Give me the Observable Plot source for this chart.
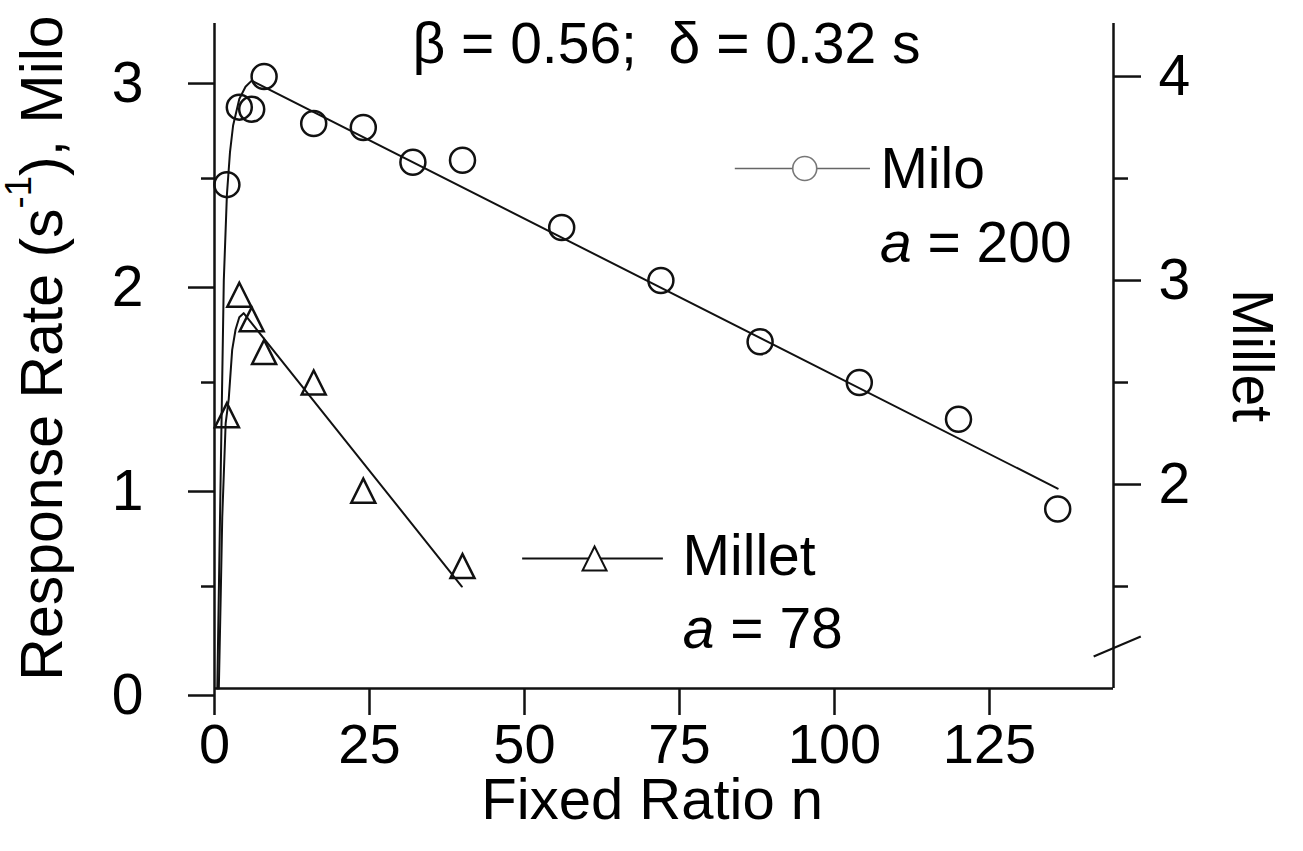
<!DOCTYPE html>
<html><head><meta charset="utf-8">
<script src="https://cdn.jsdelivr.net/npm/d3@7"></script>
<script src="https://cdn.jsdelivr.net/npm/@observablehq/plot@0.6"></script>
<style>html,body{margin:0;padding:0;background:#fff;} svg{display:block;}</style>
</head><body><div id="chart"></div>
<script>
// ---- data ----
const miloN = [2, 4, 6, 8, 16, 24, 32, 40, 56, 72, 88, 104, 120, 136];
const miloRate = [2.47, 2.85, 2.84, 3.00, 2.77, 2.75, 2.58, 2.59, 2.26, 2.00, 1.70, 1.50, 1.32, 0.88];
const milletN = [2, 4, 6, 8, 16, 24, 40];
const milletRate = [2.34, 2.93, 2.81, 2.65, 2.50, 1.97, 1.60]; // on the right (Millet) axis
const miloFitN = [0.45, 1.0, 1.5, 2, 2.5, 3, 4, 5, 6, 136];
const miloFitRate = [0, 1.05, 2.0, 2.42, 2.63, 2.76, 2.89, 2.95, 2.98, 0.98];
const milletFitN = [0.7, 1.0, 1.25, 1.8, 2.3, 2.85, 3.4, 4.0, 4.7, 39.9];
const milletFitRate = [1.0, 1.45, 1.84, 2.30, 2.42, 2.66, 2.76, 2.82, 2.84, 1.50]; // right axis units
const xTicks = [0, 25, 50, 75, 100, 125];
const yTicksLeft = [0, 1, 2, 3];
const yMinorLeft = [0.5, 1.5, 2.5];
const yTicksRight = [2, 3, 4];
const yMinorRight = [1.5, 2.5, 3.5];
const rightOffset = 1; // Millet axis value = left axis value + 1

const milo = miloN.map((n, i) => ({n, rate: miloRate[i]}));
const millet = milletN.map((n, i) => ({n, rate: milletRate[i] - rightOffset}));
const miloFit = miloFitN.map((n, i) => ({n, rate: miloFitRate[i]}));
const milletFit = milletFitN.map((n, i) => ({n, rate: milletFitRate[i] - rightOffset}));

const FONT = "'Liberation Sans', Arial, Helvetica, sans-serif";
const FS = 57;
const INK = "#111";

const tri = {draw(ctx, size) {const r = Math.sqrt(size / Math.PI); ctx.moveTo(0, -r); ctx.lineTo(r, r); ctx.lineTo(-r, r); ctx.closePath();}};

const plot = Plot.plot({
  width: 1303, height: 851,
  marginLeft: 214, marginRight: 190, marginTop: 23, marginBottom: 163,
  style: {fontFamily: FONT, fontSize: FS + "px", color: "#000", background: "#fff", overflow: "visible"},
  x: {domain: [0, 145]},
  y: {domain: [0, 3.26]},
  marks: [
    // frame lines
    Plot.ruleX([0, 145], {stroke: INK, strokeWidth: 2.5}),
    Plot.ruleY([0], {stroke: INK, strokeWidth: 2.5}),
    // axes
    Plot.axisX({ticks: xTicks, tickFormat: d => String(d), tickSize: 27, tickPadding: 8, fontSize: 56, strokeWidth: 2.5, stroke: INK, label: null}),
    Plot.axisY({anchor: "left", ticks: yTicksLeft, tickFormat: d => String(d), tickSize: 26, tickPadding: 45, dy: 7, fontSize: FS, strokeWidth: 2.5, stroke: INK, label: null}),
    Plot.axisY({anchor: "left", ticks: yMinorLeft, tickSize: 13, tickFormat: () => "", strokeWidth: 2.5, stroke: INK, label: null}),
    Plot.axisY({anchor: "right", ticks: yTicksRight.map(v => v - rightOffset), tickFormat: d => String(d + rightOffset), tickSize: 27, tickPadding: 18, fontSize: FS, strokeWidth: 2.5, stroke: INK, label: null}),
    Plot.axisY({anchor: "right", ticks: yMinorRight.map(v => v - rightOffset), tickSize: 14, tickFormat: () => "", strokeWidth: 2.5, stroke: INK, label: null}),
    // axis break on the right axis
    Plot.link([{x1: 141.8, y1: 0.157, x2: 149.4, y2: 0.255}], {x1: "x1", y1: "y1", x2: "x2", y2: "y2", stroke: INK, strokeWidth: 2}),
    // fitted curves
    Plot.line(miloFit, {x: "n", y: "rate", stroke: INK, strokeWidth: 2}),
    Plot.line(milletFit, {x: "n", y: "rate", stroke: INK, strokeWidth: 2}),
    // data
    Plot.dot(milo, {x: "n", y: "rate", r: 12.5, stroke: INK, strokeWidth: 2.5, fill: "none"}),
    Plot.dot(millet, {x: "n", y: "rate", symbol: tri, r: 12, stroke: INK, strokeWidth: 2.5, fill: "none"}),
    // legend samples
    Plot.ruleY([2.549], {x1: 84.0, x2: 105.8, stroke: "#666", strokeWidth: 1.5}),
    Plot.dot([{n: 95.2, rate: 2.549}], {x: "n", y: "rate", r: 12, stroke: "#777", strokeWidth: 1.6, fill: "white"}),
    Plot.ruleY([0.637], {x1: 49.7, x2: 72.4, stroke: INK, strokeWidth: 2}),
    Plot.dot([{n: 61.3, rate: 0.637}], {x: "n", y: "rate", symbol: tri, r: 12, stroke: INK, strokeWidth: 2, fill: "white"}),
    Plot.text(["Milo"], {x: 107.4, y: 2.455, text: d => d, textAnchor: "start", lineAnchor: "bottom", fontSize: FS, fill: "#000"}),
    Plot.text(["Millet"], {x: 75.5, y: 0.554, text: d => d, textAnchor: "start", lineAnchor: "bottom", fontSize: FS, fill: "#000"}),
    // title and axis titles
    Plot.text(["β = 0.56;  δ = 0.32 s"], {x: 72.9, y: 3.064, text: d => d, textAnchor: "middle", lineAnchor: "bottom", fontSize: FS, fill: "#000"}),
    Plot.text(["Fixed Ratio n"], {x: 70.6, y: -0.64, text: d => d, textAnchor: "middle", lineAnchor: "bottom", fontSize: 58, fill: "#000"}),
    Plot.text(["Millet"], {x: 164.2, y: 1.632, text: d => d, rotate: 90, textAnchor: "middle", lineAnchor: "bottom", fontSize: FS, fill: "#000"})
  ]
});
document.getElementById("chart").appendChild(plot);

// rich-text annotations (italic / superscript) placed via the plot's scales
const sx = plot.scale("x"), sy = plot.scale("y");
const svg = d3.select(plot);
function eqLabel(n, rate, value) {
  const t = svg.append("text")
    .attr("x", sx.apply(n)).attr("y", sy.apply(rate))
    .attr("text-anchor", "start")
    .attr("font-family", FONT).attr("font-size", FS).attr("fill", "#000");
  t.append("tspan").attr("font-style", "italic").text("a");
  t.append("tspan").text(" = " + value);
}
eqLabel(107.4, 2.09, 200);
eqLabel(75.6, 0.196, 78);

const yl = svg.append("text")
  .attr("transform", "translate(62,348) rotate(-90)")
  .attr("text-anchor", "middle")
  .attr("font-family", FONT).attr("font-size", 59).attr("fill", "#000");
yl.append("tspan").text("Response Rate (s");
yl.append("tspan").attr("font-size", 59 * 0.62).attr("dy", "-0.85em").text("-1");
yl.append("tspan").attr("dy", "0.53em").text("), Milo");
</script>
</body></html>
